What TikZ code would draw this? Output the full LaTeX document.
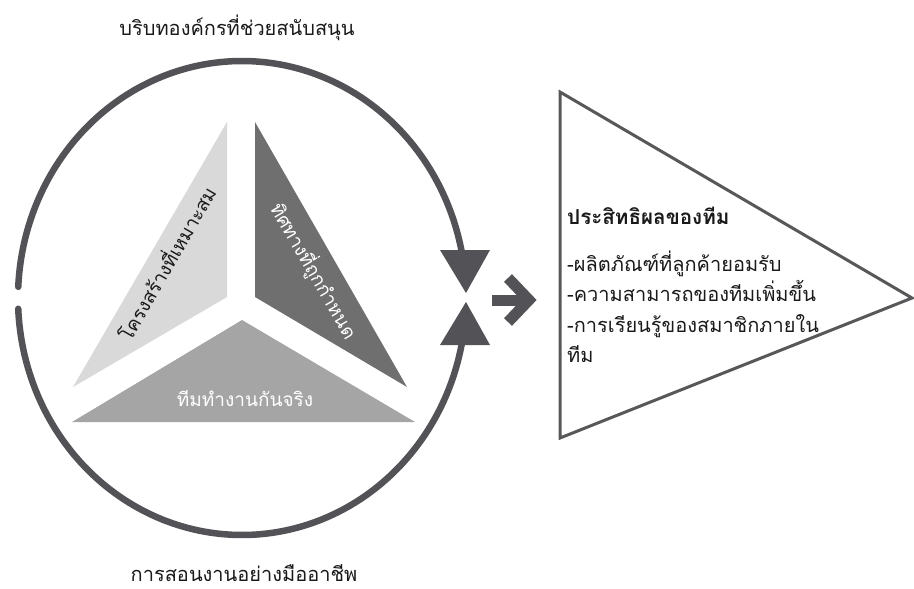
\documentclass[tikz,border=0pt]{standalone}
\usepackage{fontspec}
\newfontfamily\thai[Script=Thai]{Loma}
\definecolor{ringgray}{HTML}{535357}
\definecolor{edgegray}{HTML}{58585A}
\definecolor{lightgray}{HTML}{D9D9D9}
\definecolor{darkgray}{HTML}{6F6F6F}
\definecolor{midgray}{HTML}{A5A5A5}
\definecolor{txt}{HTML}{1A1A1A}
\begin{document}
\begin{tikzpicture}[x=1pt,y=-1pt,
  ring/.style={line width=6.5pt, draw=ringgray, line cap=round},
  bigarrow/.style={line width=11pt, draw=ringgray},
  lbl/.style={font=\thai\fontsize{20}{23}\selectfont, inner sep=0pt, text=txt},
  listlbl/.style={font=\thai\fontsize{20}{23}\selectfont, inner sep=0pt, text=txt, anchor=base west},
  trilbl/.style={font=\thai\fontsize{19}{22}\selectfont, inner sep=0pt},
]
\useasboundingbox (0,0) rectangle (914,589);
\fill[white] (0,0) rectangle (914,589);

% three inner triangles
\fill[lightgray] (227,122) -- (227,297) -- (73,387) -- cycle;
\fill[darkgray] (255,122) -- (255,297) -- (407,387) -- cycle;
\fill[midgray] (242,320) -- (415,422) -- (72,422) -- cycle;

\node[trilbl, text=txt, rotate=60] (structure) at (165.5,262.5) {โครงสร้างที่เหมาะสม};
\node[trilbl, text=white, rotate=-60] (direction) at (314,271) {ทิศทางที่ถูกกำหนด};
\node[trilbl, text=white, anchor=base] (team) at (245,406) {ทีมทำงานกันจริง};

% ring arcs
\coordinate (upend) at ({242+224*cos(10)},{298-237*sin(10)});
\coordinate (lowend) at ({242+224*cos(350)},{298-237*sin(350)});
\draw[ring] plot[domain=177.3:10, samples=150] ({242+224*cos(\x)},{298-237*sin(\x)});
\draw[ring] plot[domain=182.6:350, samples=150] ({242+224*cos(\x)},{298-237*sin(\x)});

% arrowheads
\coordinate (uptip) at (466,293);
\coordinate (lowtip) at (466,302);
\fill[ringgray] (440,250) -- (490,250) -- (uptip) -- cycle;
\fill[ringgray] (440,345) -- (490,345) -- (lowtip) -- cycle;

% right arrow
\coordinate (ashaft) at (492,300);
\coordinate (avertex) at (529,300);
\draw[bigarrow] (ashaft) -- (526,300);
\draw[bigarrow, line join=miter] (508,278) -- (avertex) -- (508,322);

% labels top & bottom
\node[lbl, anchor=base] (support) at (237,35) {บริบทองค์กรที่ช่วยสนับสนุน};
\node[lbl, anchor=base] (coach) at (244,581) {การสอนงานอย่างมืออาชีพ};

% output triangle
\draw[line width=3pt, draw=edgegray, line join=miter] (560,92) -- (912,298) -- (560,438) -- cycle;
\node[listlbl, font=\thai\bfseries\fontsize{20.6}{23}\selectfont] (title) at (567,224) {ประสิทธิผลของทีม};
\node[listlbl] (l1) at (567,271) {-ผลิตภัณฑ์ที่ลูกค้ายอมรับ};
\node[listlbl] (l2) at (567,301) {-ความสามารถของทีมเพิ่มขึ้น};
\node[listlbl] (l3) at (567,332) {-การเรียนรู้ของสมาชิกภายใน};
\node[listlbl] (l4) at (567,362) {ทีม};
\end{tikzpicture}
\end{document}
